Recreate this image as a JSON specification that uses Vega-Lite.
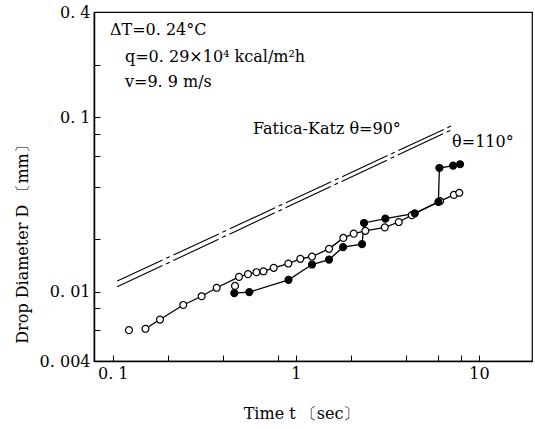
{
  "$schema": "https://vega.github.io/schema/vega-lite/v6.json",
  "width": 438,
  "height": 349,
  "autosize": "none",
  "padding": {"left": 94, "top": 12, "right": 3, "bottom": 68},
  "background": "white",
  "config": {
    "font": "DejaVu Serif",
    "view": {"stroke": "black", "strokeWidth": 1.2},
    "axis": {
      "grid": false,
      "domainColor": "black",
      "domainWidth": 1.5,
      "tickColor": "black",
      "tickWidth": 1,
      "tickSize": -6,
      "labelPadding": 10,
      "labelFontSize": 16,
      "labelColor": "black",
      "labelOverlap": false,
      "labelFont": "DejaVu Serif",
      "titleFont": "DejaVu Serif",
      "titleFontSize": 16,
      "titleFontWeight": "normal",
      "titleColor": "black"
    }
  },
  "datasets": {
    "obs": [
      {"series": "iso", "i": 0, "t": 0.1226, "D": 0.00601},
      {"series": "open", "i": 1, "t": 0.1509, "D": 0.00612},
      {"series": "open", "i": 2, "t": 0.1811, "D": 0.00691},
      {"series": "open", "i": 3, "t": 0.2428, "D": 0.00838},
      {"series": "open", "i": 4, "t": 0.3060, "D": 0.00940},
      {"series": "open", "i": 5, "t": 0.3696, "D": 0.01051},
      {"series": "iso", "i": 0, "t": 0.4654, "D": 0.01077},
      {"series": "open", "i": 6, "t": 0.4894, "D": 0.01214},
      {"series": "open", "i": 7, "t": 0.5480, "D": 0.01259},
      {"series": "open", "i": 8, "t": 0.6098, "D": 0.01291},
      {"series": "open", "i": 9, "t": 0.6660, "D": 0.01307},
      {"series": "open", "i": 10, "t": 0.7571, "D": 0.01368},
      {"series": "open", "i": 11, "t": 0.9099, "D": 0.01447},
      {"series": "open", "i": 12, "t": 1.0583, "D": 0.01540},
      {"series": "open", "i": 13, "t": 1.226, "D": 0.01588},
      {"series": "open", "i": 14, "t": 1.518, "D": 0.01757},
      {"series": "open", "i": 15, "t": 1.818, "D": 0.02030},
      {"series": "open", "i": 16, "t": 2.072, "D": 0.02148},
      {"series": "open", "i": 17, "t": 2.398, "D": 0.02229},
      {"series": "open", "i": 18, "t": 3.061, "D": 0.02333},
      {"series": "open", "i": 19, "t": 3.651, "D": 0.02503},
      {"series": "open", "i": 20, "t": 4.299, "D": 0.02740},
      {"series": "open", "i": 21, "t": 6.138, "D": 0.03296},
      {"series": "open", "i": 22, "t": 7.302, "D": 0.03579},
      {"series": "open", "i": 23, "t": 7.815, "D": 0.03683},
      {"series": "filled", "i": 1, "t": 0.4612, "D": 0.00980},
      {"series": "filled", "i": 2, "t": 0.5571, "D": 0.00993},
      {"series": "filled", "i": 3, "t": 0.9123, "D": 0.01167},
      {"series": "filled", "i": 4, "t": 1.226, "D": 0.01428},
      {"series": "filled", "i": 5, "t": 1.518, "D": 0.01525},
      {"series": "filled", "i": 6, "t": 1.811, "D": 0.01797},
      {"series": "filled", "i": 7, "t": 2.300, "D": 0.01869},
      {"series": "filled", "i": 8, "t": 2.359, "D": 0.02473},
      {"series": "filled", "i": 9, "t": 3.084, "D": 0.02617},
      {"series": "filled", "i": 10, "t": 4.464, "D": 0.02807},
      {"series": "filled", "i": 11, "t": 6.008, "D": 0.03264},
      {"series": "filled", "i": 12, "t": 6.085, "D": 0.05107},
      {"series": "filled", "i": 13, "t": 7.228, "D": 0.05267},
      {"series": "filled", "i": 14, "t": 7.894, "D": 0.05365}
    ],
    "fk": [
      {"line": "upper", "t": 0.1058, "D": 0.01148},
      {"line": "upper", "t": 7.11, "D": 0.0892},
      {"line": "lower", "t": 0.1058, "D": 0.01064},
      {"line": "lower", "t": 7.255, "D": 0.0855}
    ],
    "notes": [
      {"t": 0.0965, "D": 0.3155, "label": "ΔT=0. 24°C"},
      {"t": 0.1166, "D": 0.2209, "label": "q=0. 29×10⁴ kcal/m²h"},
      {"t": 0.1166, "D": 0.1589, "label": "v=9. 9 m/s"},
      {"t": 0.5836, "D": 0.0851, "label": "Fatica-Katz θ=90°"},
      {"t": 7.14, "D": 0.0715, "label": "θ=110°"}
    ]
  },
  "encoding": {
    "x": {
      "field": "t",
      "type": "quantitative",
      "scale": {"type": "log", "domain": [0.079, 19.5], "nice": false},
      "axis": {
        "values": [0.1, 0.2, 0.4, 0.8, 1, 2, 4, 6, 8, 10],
        "labelExpr": "datum.value == 0.1 ? '0. 1' : datum.value == 1 ? '1' : datum.value == 10 ? '10' : ''",
        "title": "Time t 〔sec〕",
        "titleX": 207,
        "titleY": 52,
        "titleBaseline": "middle"
      }
    },
    "y": {
      "field": "D",
      "type": "quantitative",
      "scale": {"type": "log", "domain": [0.004, 0.4], "nice": false},
      "axis": {
        "values": [0.004, 0.006, 0.008, 0.01, 0.02, 0.04, 0.06, 0.08, 0.1, 0.2, 0.4],
        "labelExpr": "datum.value == 0.004 ? '0. 004' : datum.value == 0.01 ? '0. 01' : datum.value == 0.1 ? '0. 1' : datum.value == 0.4 ? '0. 4' : ''",
        "title": "Drop Diameter D 〔mm〕",
        "titleX": -72,
        "titleY": 228,
        "titleBaseline": "middle"
      }
    }
  },
  "layer": [
    {
      "data": {"name": "fk"},
      "mark": {"type": "line", "color": "black", "strokeWidth": 1.1, "strokeDash": [50, 4, 4, 4]},
      "encoding": {"detail": {"field": "line", "type": "nominal"}}
    },
    {
      "data": {"name": "obs"},
      "transform": [{"filter": "datum.series != 'iso'"}],
      "mark": {"type": "line", "color": "black", "strokeWidth": 1.3},
      "encoding": {
        "detail": {"field": "series", "type": "nominal"},
        "order": {"field": "i", "type": "quantitative"}
      }
    },
    {
      "data": {"name": "obs"},
      "mark": {"type": "point", "shape": "circle", "size": 48, "filled": true, "stroke": "black", "strokeWidth": 1.2, "opacity": 1},
      "encoding": {
        "fill": {
          "field": "series",
          "type": "nominal",
          "scale": {"domain": ["open", "iso", "filled"], "range": ["white", "white", "black"]},
          "legend": null
        }
      }
    },
    {
      "data": {"name": "notes"},
      "mark": {"type": "text", "align": "left", "baseline": "middle", "fontSize": 16, "color": "black", "font": "DejaVu Serif"},
      "encoding": {"text": {"field": "label", "type": "nominal"}}
    }
  ]
}
